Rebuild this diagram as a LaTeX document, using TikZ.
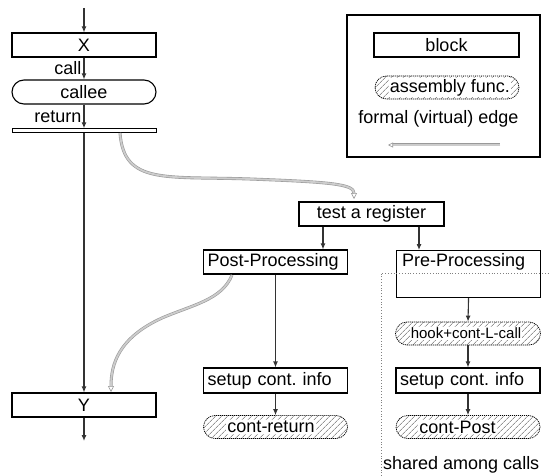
\documentclass[tikz,border=0pt]{standalone}
\usepackage{fontspec}
\setmainfont{Liberation Sans}
\usetikzlibrary{arrows.meta,shapes.misc,patterns.meta,calc}
\begin{document}
\begin{tikzpicture}[x=1pt,y=-1pt,
  every node/.style={font=\fontsize{18}{20}\selectfont},
  blk/.style={draw, rectangle, line width=1.1pt, inner sep=0pt, minimum width=144pt, minimum height=24pt},
  lblk/.style={blk, text width=136pt, align=left},
  rnd/.style={draw, rounded rectangle, line width=1.1pt, inner sep=0pt, minimum width=144pt, minimum height=24pt},
  asm/.style={draw=black, rounded rectangle, line width=0.7pt, dash pattern=on 1.2pt off 0.8pt, inner sep=0pt,
     minimum width=144pt, minimum height=23pt,
     pattern={Lines[angle=45,distance=4pt,line width=0.6pt]}, pattern color=black!65},
  asmtxt/.style={fill=white, inner sep=1pt},
  arr/.style={draw=black!80, line width=1.1pt, -{Latex[length=6pt,width=5pt]}},
  vedge/.style={draw=gray!80, line width=0.6pt, double=gray!40, double distance=1.8pt,
     -{Triangle[open,length=6pt,width=6pt]}},
]
\useasboundingbox (0,0) rectangle (549,476);

% left column
\coordinate (top) at (84,8);
\node[blk] (X) at (84,45) {X};
\node[rnd] (callee) at (84,92) {callee};
\node[draw, rectangle, line width=0.9pt, minimum width=144pt, minimum height=3.5pt, inner sep=0pt] (bar) at (84,130.5) {};
\node[blk] (Y) at (84,405) {Y};
\coordinate (bot) at (84,441);

\draw[arr] (top) -- (X.north);
\draw[arr] (X.south) -- node[left, inner sep=2pt] {call} (callee.north);
\draw[arr] (callee.south) -- node[left, inner sep=2pt] {return} (bar.north);
\draw[arr] (bar.south) -- (Y.north);
\draw[arr] (Y.south) -- (bot);

% middle/right
\node[blk, minimum width=145pt] (test) at (371.5,214) {test a register};
\node[lblk] (post) at (275.5,262) {Post-Processing};
\node[draw, rectangle, line width=1.1pt, minimum width=144pt, minimum height=47pt, anchor=north west] (pre) at (396,250) {};
\node[anchor=north west, inner sep=0pt] (pretxt) at (402,253) {Pre-Processing};

\node[lblk, minimum height=25pt] (setupL) at (275.5,380.5) {setup cont.\ info};
\node[asm] (contR) at (275.5,427) {};
\node[asmtxt] (contRt) at (271,427) {cont-return};

\node[asm, minimum width=145pt] (hook) at (468,333.5) {};
\node[asmtxt, font=\fontsize{15}{17}\selectfont] (hookt) at (466,333.5) {hook+cont-L-call};
\node[lblk, minimum height=25pt] (setupR) at (468,380.5) {setup cont.\ info};
\node[asm] (contP) at (468,427) {};
\node[asmtxt] (contPt) at (457.5,427) {cont-Post};

\coordinate (xa) at (323,0);
\coordinate (xb) at (419,0);
\draw[arr] (xa |- test.south) -- (xa |- post.north);
\draw[arr] (xb |- test.south) -- (xb |- pre.north);
\draw[arr] (post.south) -- (setupL.north);
\draw[arr] (setupL.south) -- (contR.north);
\draw[arr] (pre.south) -- (hook.north);
\draw[arr] (hook.south) -- (setupR.north);
\draw[arr] (setupR.south) -- (contP.north);

% shared region
\coordinate (d1) at (381,476);
\coordinate (d2) at (381,273);
\coordinate (d3) at (549,273);
\draw[gray, line width=0.8pt, dotted] (d1) -- (d2) -- (d3);
\node[anchor=west, inner sep=0pt] (shared) at (383,465) {shared among calls};

% virtual edges
\coordinate (v1s) at (120,133);
\coordinate (v1e) at (354,199);
\draw[vedge] (v1s) .. controls (124,185) and (165,176) .. (250,179) .. controls (330,182) and (354,184) .. (v1e);
\coordinate (v2s) at (232,275);
\coordinate (v2e) at (111,392);
\draw[vedge] (v2s) .. controls (222,300) and (192,305) .. (162,318) .. controls (118,338) and (111,365) .. (v2e);

% legend
\draw[line width=1.1pt] (347,15) rectangle (540,157);
\node[blk, minimum width=145pt] (lblock) at (446.5,45) {block};
\node[asm] (lasm) at (447,87.5) {};
\node[asmtxt] (lasmt) at (450,87.5) {assembly func.};
\node (lformal) at (438.5,119) {formal (virtual) edge};
\coordinate (le1) at (500,145);
\coordinate (le2) at (388,145);
\draw[vedge, -{Triangle[open,length=5pt,width=5pt]}] (le1) -- (le2);
\end{tikzpicture}
\end{document}
